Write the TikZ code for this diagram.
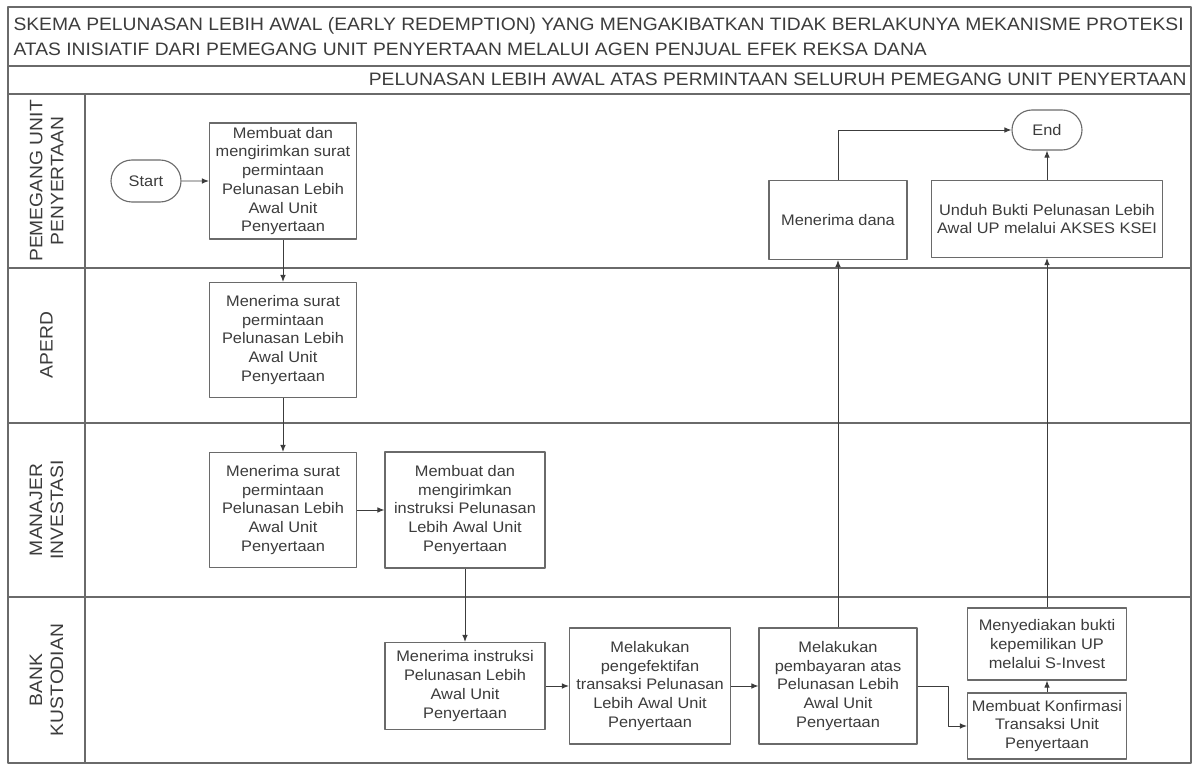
\documentclass[tikz,border=0pt]{standalone}
\usepackage{fontspec}
\setmainfont[FakeStretch=1.07]{Liberation Sans}
\usetikzlibrary{arrows.meta,shapes.misc}
\definecolor{ink}{HTML}{3C3C3C}
\definecolor{rule}{HTML}{6A6A6A}
\tikzset{
	lane/.style={draw=rule, line width=1.6pt},
	box/.style={draw=rule, line width=1.1pt, fill=white, align=center, inner sep=1pt,
		text=ink, font=\fontsize{15.3}{18.7}\selectfont},
	term/.style={box, rounded rectangle, minimum width=72pt, minimum height=42pt},
	lanelabel/.style={rotate=90, align=center, text=ink, font=\fontsize{18}{21}\selectfont},
	flow/.style={->, draw=ink, line width=0.9pt},
}
\begin{document}
\begin{tikzpicture}[x=1pt, y=-1pt, >={Latex[length=7pt,width=5.5pt]}, line join=round]
	\useasboundingbox (0,0) rectangle (1194,770);
	\fill[white] (0,0) rectangle (1194,770);
	% swimlanes
	\draw[lane] (8,7) rectangle (1191,763);
	\foreach \y in {66,94,268,423,597}
	\draw[lane] (8,\y) -- (1191,\y);
	\draw[lane] (85,94) -- (85,763);
	\node[anchor=west, align=left, text=ink, font=\fontsize{18}{25}\selectfont] (judul) at (10,37)
	{SKEMA PELUNASAN LEBIH AWAL (EARLY REDEMPTION) YANG MENGAKIBATKAN TIDAK BERLAKUNYA MEKANISME PROTEKSI\\
		ATAS INISIATIF DARI PEMEGANG UNIT PENYERTAAN MELALUI AGEN PENJUAL EFEK REKSA DANA};
	\node[anchor=east, text=ink, font=\fontsize{18}{21}\selectfont] (subjudul) at (1190,79)
	{PELUNASAN LEBIH AWAL ATAS PERMINTAAN SELURUH PEMEGANG UNIT PENYERTAAN};
	\foreach \n/\y/\t in {pu/181/{PEMEGANG UNIT\\PENYERTAAN}, ap/345/APERD, mi/510/{MANAJER\\INVESTASI}, bk/680/{BANK\\KUSTODIAN}}
	\node[lanelabel] (lbl-\n) at (46.5,\y) {\t};
	% pemegang unit penyertaan
	\node[term] (start) at (146,181) {Start};
	\node[box, minimum width=147pt, minimum height=116pt] (pu1) at (283,181)
	{Membuat dan\\mengirimkan surat\\permintaan\\Pelunasan Lebih\\Awal Unit\\Penyertaan};
	\node[box, minimum width=138pt, minimum height=79pt] (pu2) at (838,220) {Menerima dana};
	\node[box, minimum width=231pt, minimum height=77pt] (pu3) at (1047,219)
	{Unduh Bukti Pelunasan Lebih\\Awal UP melalui AKSES KSEI};
	\node[term, minimum height=40pt] (end) at (1047,130) {End};
	% aperd
	\node[box, minimum width=147pt, minimum height=115pt] (ap1) at (283,340)
	{Menerima surat\\permintaan\\Pelunasan Lebih\\Awal Unit\\Penyertaan};
	% manajer investasi
	\node[box, minimum width=147pt, minimum height=115pt] (mi1) at (283,510)
	{Menerima surat\\permintaan\\Pelunasan Lebih\\Awal Unit\\Penyertaan};
	\node[box, minimum width=160pt, minimum height=116pt] (mi2) at (465,510)
	{Membuat dan\\mengirimkan\\instruksi Pelunasan\\Lebih Awal Unit\\Penyertaan};
	% bank kustodian
	\node[box, minimum width=160pt, minimum height=87pt] (bk1) at (465,686)
	{Menerima instruksi\\Pelunasan Lebih\\Awal Unit\\Penyertaan};
	\node[box, minimum width=161pt, minimum height=116pt] (bk2) at (650,686)
	{Melakukan\\pengefektifan\\transaksi Pelunasan\\Lebih Awal Unit\\Penyertaan};
	\node[box, minimum width=158pt, minimum height=116pt] (bk3) at (838,686)
	{Melakukan\\pembayaran atas\\Pelunasan Lebih\\Awal Unit\\Penyertaan};
	\node[box, minimum width=159pt, minimum height=72pt] (bk4) at (1047,644)
	{Menyediakan bukti\\kepemilikan UP\\melalui S-Invest};
	\node[box, minimum width=159pt, minimum height=66pt] (bk5) at (1047,726)
	{Membuat Konfirmasi\\Transaksi Unit\\Penyertaan};
	\coordinate (belok) at (948,686);
	% alur
	\draw[flow] (start) -- (pu1);
	\draw[flow] (pu1) -- (ap1);
	\draw[flow] (ap1) -- (mi1);
	\draw[flow] (mi1) -- (mi2);
	\draw[flow] (mi2) -- (bk1);
	\draw[flow] (bk1) -- (bk2);
	\draw[flow] (bk2) -- (bk3);
	\draw[flow] (bk3) -- (pu2);
	\draw[flow] (pu2.north) |- (end.west);
	\draw[flow] (bk3.east) -- (belok) |- (bk5.west);
	\draw[flow] (bk5) -- (bk4);
	\draw[flow] (bk4) -- (pu3);
	\draw[flow] (pu3) -- (end);
\end{tikzpicture}
\end{document}
